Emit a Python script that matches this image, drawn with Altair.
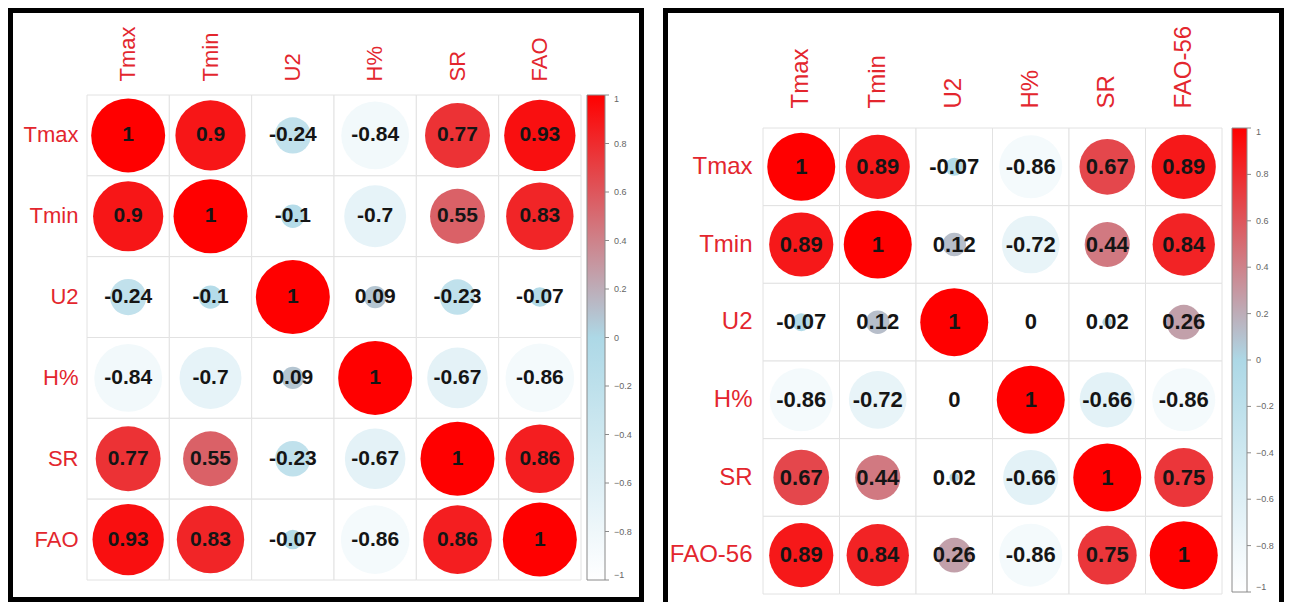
import altair as alt
import pandas as pd

vars_left = ["Tmax", "Tmin", "U2", "H%", "SR", "FAO"]
vals_left = [
    [1, 0.9, -0.24, -0.84, 0.77, 0.93],
    [0.9, 1, -0.1, -0.7, 0.55, 0.83],
    [-0.24, -0.1, 1, 0.09, -0.23, -0.07],
    [-0.84, -0.7, 0.09, 1, -0.67, -0.86],
    [0.77, 0.55, -0.23, -0.67, 1, 0.86],
    [0.93, 0.83, -0.07, -0.86, 0.86, 1],
]

vars_right = ["Tmax", "Tmin", "U2", "H%", "SR", "FAO-56"]
vals_right = [
    [1, 0.89, -0.07, -0.86, 0.67, 0.89],
    [0.89, 1, 0.12, -0.72, 0.44, 0.84],
    [-0.07, 0.12, 1, 0, 0.02, 0.26],
    [-0.86, -0.72, 0, 1, -0.66, -0.86],
    [0.67, 0.44, 0.02, -0.66, 1, 0.75],
    [0.89, 0.84, 0.26, -0.86, 0.75, 1],
]

legend_ticks = [1, 0.8, 0.6, 0.4, 0.2, 0, -0.2, -0.4, -0.6, -0.8, -1]

LABEL_RED = "#E3262E"
FONT = "Liberation Sans"
BW = 5  # frame line width


def to_df(names, mat):
    rows = []
    for i, rn in enumerate(names):
        for j, cn in enumerate(names):
            v = mat[i][j]
            rows.append({"row": rn, "col": cn, "r": v, "absr": abs(v),
                         "lab": ("%g" % v)})
    return pd.DataFrame(rows)


def bar(x1, x2, y1, y2):
    return alt.Chart(pd.DataFrame({"k": [0]})).mark_rect(
        color="#000000").encode(
        x=alt.value(x1), x2=alt.value(x2), y=alt.value(y1), y2=alt.value(y2))


def panel(names, mat, W, H, yoff, maxsize, fs_lab, fs_num, xpad, ypad,
          leg_x, leg_len, leg_thick, frame, closed):
    df = to_df(names, mat)
    base = alt.Chart(df)
    xaxis = dict(orient="top", title=None, labelAngle=-90,
                 labelAlign="left", labelBaseline="middle",
                 labelFontSize=fs_lab, labelColor=LABEL_RED,
                 labelFont=FONT, labelPadding=xpad,
                 domain=False, ticks=False, grid=False)
    if yoff:
        xaxis["offset"] = -yoff
    xenc = alt.X("col:N", sort=names,
                 scale=alt.Scale(paddingInner=0, paddingOuter=0),
                 axis=alt.Axis(**xaxis))
    yenc = alt.Y("row:N", sort=names,
                 scale=alt.Scale(paddingInner=0, paddingOuter=0,
                                 range=[yoff, yoff + H]),
                 axis=alt.Axis(title=None, labelFontSize=fs_lab,
                               labelColor=LABEL_RED, labelFont=FONT,
                               labelPadding=ypad, labelAlign="right",
                               domain=False, ticks=False, grid=False))
    cells = base.mark_rect(fill="white", stroke="#E2E2E2", strokeWidth=1).encode(
        x=xenc, y=yenc)
    circles = base.mark_circle(opacity=1).encode(
        x=alt.X("col:N", sort=names),
        y=alt.Y("row:N", sort=names),
        size=alt.Size("absr:Q", scale=alt.Scale(domain=[0, 1], range=[0, maxsize]),
                      legend=None),
        color=alt.Color("r:Q",
                        scale=alt.Scale(domain=[-1, 0, 1],
                                        range=["#FFFFFF", "#ADD8E6", "#FF0000"],
                                        interpolate="rgb"),
                        legend=alt.Legend(orient="none", legendX=leg_x, legendY=yoff,
                                          title=None, gradientLength=leg_len,
                                          gradientThickness=leg_thick,
                                          gradientStrokeColor="#8A8A8A",
                                          gradientStrokeWidth=1,
                                          values=legend_ticks, labelOverlap=False,
                                          format="~g",
                                          labelFontSize=9, labelColor="#666666",
                                          labelFont=FONT, labelOffset=9,
                                          padding=0)),
    )
    texts = base.mark_text(fontWeight="bold", fontSize=fs_num, font=FONT,
                           color="#151515", baseline="middle").encode(
        x=alt.X("col:N", sort=names),
        y=alt.Y("row:N", sort=names),
        text="lab:N")
    # small tick marks on the right side of the colour bar
    ticks = alt.Chart(pd.DataFrame({"t": legend_ticks})).mark_rule(
        color="#8A8A8A", strokeWidth=1).encode(
        y=alt.Y("t:Q", scale=alt.Scale(domain=[-1, 1],
                                       range=[yoff + leg_len, yoff]),
                axis=None),
        x=alt.value(leg_x + leg_thick), x2=alt.value(leg_x + leg_thick + 4))
    # frame given as outer edges: left, right, top, bottom
    ox1, ox2, oy1, oy2 = frame
    frame_layers = [
        bar(ox1, ox2, oy1, oy1 + BW),          # top
        bar(ox1, ox1 + BW, oy1, oy2),          # left
        bar(ox2 - BW, ox2, oy1, oy2),          # right
    ]
    if closed:
        frame_layers.append(bar(ox1, ox2, oy2 - BW, oy2))  # bottom
    main = alt.layer(*frame_layers, cells, circles, texts)
    return alt.layer(main, ticks).resolve_scale(
        y="independent", color="independent").properties(
        width=W, height=H + yoff)


W1, H1 = 494, 485
W2, H2 = 459, 466
OFF2 = 33  # right grid starts 33px lower than the left one

left = panel(vars_left, vals_left, W1, H1, 0, 5476, 22, 21, 14, 9,
             W1 + 6, H1, 18, (-79, W1 + 63, -87, H1 + 22), True)
right = panel(vars_right, vals_right, W2, H2, OFF2, 4624, 24, 22, 20, 11,
              W2 + 10, 464, 15, (-100, W2 + 62, -87, OFF2 + H2 + 8), False)

chart = alt.hconcat(left, right, spacing=19).resolve_scale(
    color="independent", size="independent").resolve_legend(
    color="independent").configure(padding=0).configure_view(
    strokeWidth=0)

chart.save("out.html", embed_options={"renderer": "svg", "actions": False})
